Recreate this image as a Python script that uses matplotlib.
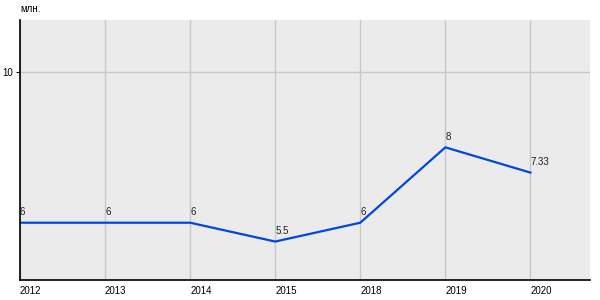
import matplotlib.pyplot as plt

years = ['2012', '2013', '2014', '2015', '2018', '2019', '2020']
values = [6, 6, 6, 5.5, 6, 8, 7.33]
labels = ['6', '6', '6', '5.5', '6', '8', '7.33']

plt.rcParams['font.family'] = ['Liberation Sans', 'DejaVu Sans']

fig = plt.figure(figsize=(6, 3), dpi=100)
ax = fig.add_axes([0.0333, 0.0667, 0.95, 0.8667])
ax.set_facecolor('#ebebeb')

x = list(range(len(years)))
ax.plot(x, values, color='#0047e0', linewidth=1.6, solid_joinstyle='miter')

for i, v in enumerate(values):
    ax.annotate(labels[i], (x[i], v), xytext=(0, 4), textcoords='offset points',
                ha='left', va='bottom', fontsize=7, color='#222222')

ax.set_xlim(0, 6.7)
ax.set_ylim(4.48, 11.38)
ax.set_xticks(x)
ax.set_xticklabels(years, ha='left')
ax.set_yticks([10])
ax.tick_params(axis='x', length=0, labelsize=7, pad=4)
ax.tick_params(axis='y', length=3, labelsize=7, pad=2)
ax.grid(True, color='#c8c8c8', linewidth=1)
ax.set_axisbelow(True)

for s in ['top', 'right']:
    ax.spines[s].set_visible(False)
ax.spines['left'].set_linewidth(1.2)
ax.spines['bottom'].set_linewidth(1.2)

fig.text(0.0333, 0.955, 'млн.', fontsize=7, ha='left', va='bottom')

fig.savefig('out.png', dpi=100)
